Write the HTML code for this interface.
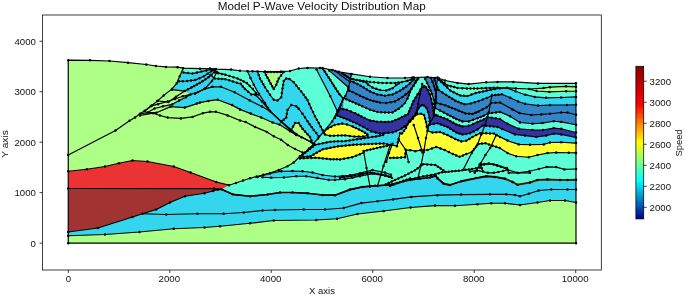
<!DOCTYPE html><html><head><meta charset="utf-8"><style>html,body{margin:0;padding:0;background:#fff;}svg{display:block}</style></head><body>
<svg width="685" height="296" viewBox="0 0 685 296" font-family="Liberation Sans, sans-serif" style="will-change:transform">
<rect width="685" height="296" fill="#fff"/>
<defs><linearGradient id="cb" x1="0" y1="1" x2="0" y2="0"><stop offset="0" stop-color="#00008b"/><stop offset="0.25" stop-color="#00ffff"/><stop offset="0.5" stop-color="#ffff00"/><stop offset="0.75" stop-color="#ff0000"/><stop offset="1" stop-color="#8b0000"/></linearGradient><clipPath id="ax"><rect x="42.50" y="15.00" width="558.80" height="255.00"/></clipPath><clipPath id="mdl"><polygon points="68.25,60.20 90.00,60.30 109.50,61.00 128.00,62.70 146.30,64.50 156.00,66.00 166.00,66.90 177.50,67.20 183.20,68.20 200.00,68.70 210.00,68.60 216.00,69.10 231.00,69.60 240.00,70.75 252.50,71.25 265.00,71.60 281.25,71.60 290.00,71.00 298.75,68.50 307.50,67.90 320.00,68.00 322.50,68.00 332.50,70.10 338.75,71.75 351.25,73.90 370.00,76.75 387.50,78.00 405.00,78.00 412.50,77.50 427.50,77.00 435.00,77.90 438.75,78.25 445.00,80.50 457.50,82.90 468.75,84.10 486.25,82.25 497.50,81.90 513.30,81.90 537.90,83.40 576.00,83.30 576.00,243.20 68.25,243.20"/></clipPath><clipPath id="arc"><polygon points="351.50,55.00 351.50,74.20 348.40,88.30 345.40,96.00 343.40,98.60 338.30,110.20 300.00,110.20 300.00,260.00 600.00,260.00 600.00,55.00"/></clipPath></defs>
<g clip-path="url(#ax)" stroke-linejoin="round" stroke-linecap="round">
<polygon points="68.25,60.20 90.00,60.30 109.50,61.00 128.00,62.70 146.30,64.50 156.00,66.00 166.00,66.90 177.50,67.20 183.20,68.20 200.00,68.70 210.00,68.60 216.00,69.10 231.00,69.60 240.00,70.75 252.50,71.25 265.00,71.60 281.25,71.60 290.00,71.00 298.75,68.50 307.50,67.90 320.00,68.00 322.50,68.00 332.50,70.10 338.75,71.75 351.25,73.90 370.00,76.75 387.50,78.00 405.00,78.00 412.50,77.50 427.50,77.00 435.00,77.90 438.75,78.25 445.00,80.50 457.50,82.90 468.75,84.10 486.25,82.25 497.50,81.90 513.30,81.90 537.90,83.40 576.00,83.30 576.00,243.20 68.25,243.20" fill="#adff85" clip-path="url(#mdl)"/>
<polygon points="221.40,189.30 229.00,185.20 235.00,70.30 240.00,70.75 252.50,71.25 265.00,71.60 281.25,71.60 290.00,71.00 298.75,68.50 307.50,67.90 320.00,68.00 322.50,68.00 332.50,70.10 338.75,71.75 351.25,73.90 370.00,76.75 387.50,78.00 405.00,78.00 412.50,77.50 427.50,77.00 435.00,77.90 438.75,78.25 445.00,80.50 457.50,82.90 468.75,84.10 486.25,82.25 497.50,81.90 513.30,81.90 537.90,83.40 576.00,83.30 576.00,200.00 221.40,200.00" fill="#5cffd6" clip-path="url(#mdl)"/>
<polygon points="336.00,60.00 341.90,73.30 350.00,78.60 360.00,80.60 366.25,82.30 368.00,84.40 372.50,87.60 380.00,90.10 386.25,90.50 392.50,88.25 396.25,85.10 398.75,83.20 402.00,82.00 407.50,80.75 411.25,79.50 414.00,77.50 418.00,65.00 432.00,65.00 436.00,76.00 438.75,79.75 444.00,84.50 450.30,90.60 460.40,95.60 467.50,96.10 475.60,93.10 486.80,90.60 494.90,89.00 500.00,88.30 507.10,87.90 515.50,91.20 525.20,94.70 534.80,96.90 546.20,97.80 561.25,97.50 576.00,96.90 576.00,200.00 336.00,200.00" fill="#33d6ec" clip-path="url(#mdl)"/>
<polygon points="340.00,60.00 345.00,76.00 350.00,80.75 357.50,83.90 363.75,87.60 370.00,91.40 377.50,94.50 385.00,95.75 392.50,94.50 400.00,90.75 406.25,86.40 410.00,83.25 413.75,79.50 416.00,74.00 432.00,72.00 436.00,84.00 438.50,90.00 446.20,95.00 455.40,100.80 464.50,104.30 470.60,103.50 478.70,101.00 486.80,98.00 492.00,95.50 501.90,94.30 510.20,97.80 518.10,101.50 525.00,103.75 538.00,105.60 550.00,105.00 567.00,105.00 576.00,104.75 576.00,200.00 340.00,200.00" fill="#3385c7" clip-path="url(#mdl)"/>
<polygon points="343.30,97.90 352.70,102.00 362.20,106.20 370.00,109.70 377.50,112.00 385.00,112.50 392.50,112.50 398.75,108.75 402.00,106.00 405.00,103.00 407.50,98.50 410.00,92.00 413.00,86.00 416.00,81.00 418.20,78.50 420.00,74.00 424.00,74.00 425.30,79.00 429.00,87.00 432.00,94.00 434.00,100.00 435.00,108.00 440.00,110.50 447.50,114.50 456.25,118.90 462.50,121.40 468.75,121.40 477.50,118.25 483.75,115.75 488.00,113.50 500.00,111.90 510.00,116.25 520.00,122.50 532.50,123.75 542.50,123.10 553.75,121.25 561.25,121.90 576.00,124.75 576.00,200.00 343.30,200.00" fill="#5cffd6" clip-path="url(#mdl)"/>
<polygon points="338.30,111.20 339.70,108.60 346.80,109.70 355.10,113.30 364.60,118.00 370.00,120.40 377.00,121.70 385.00,121.90 392.00,121.50 398.75,118.75 405.00,115.50 408.10,114.00 410.50,108.00 413.50,101.00 417.60,94.30 420.50,89.50 422.50,87.00 424.30,86.30 426.00,87.20 427.80,90.00 429.70,94.30 431.20,99.00 432.40,103.70 433.80,114.00 436.00,115.00 437.50,115.75 447.50,119.50 456.25,124.50 462.50,126.40 468.75,125.75 477.50,122.00 483.75,119.50 487.50,117.00 500.00,119.00 507.50,123.75 518.75,128.75 532.50,130.00 543.00,130.00 553.75,128.10 561.25,128.75 576.00,132.50 576.00,200.00 338.30,200.00" fill="#3333a2" clip-path="url(#mdl)"/>
<polygon points="300.00,60.00 320.00,60.00 323.10,69.00 339.30,94.00 343.40,98.60 338.30,111.20 337.40,115.60 346.80,119.20 356.30,123.30 363.40,127.00 371.25,131.50 380.00,133.60 392.50,132.50 396.00,131.30 401.70,128.60 407.40,124.40 413.00,118.50 416.80,112.50 419.00,107.50 421.50,105.20 424.00,105.50 426.50,108.00 428.00,112.00 429.50,118.00 430.00,124.50 437.50,123.25 447.50,127.00 456.25,132.60 462.50,134.50 470.00,133.25 477.50,129.50 482.50,125.75 486.25,125.75 497.50,127.00 502.00,129.00 515.00,134.40 525.00,135.60 536.25,136.90 546.25,135.60 553.75,133.75 561.25,134.40 576.00,137.50 576.00,200.00 300.00,200.00" fill="#33d6ec" clip-path="url(#mdl)"/>
<polygon points="300.00,157.50 310.60,156.20 322.80,149.30 338.00,146.30 353.20,144.80 368.40,144.00 383.60,143.50 391.00,145.00 397.00,146.20 398.60,139.00 400.00,133.30 402.00,133.50 406.00,128.00 409.00,121.00 413.00,117.00 417.00,114.20 421.00,113.80 424.00,115.00 426.00,122.00 427.50,130.75 432.50,132.60 440.00,132.00 447.50,135.10 455.00,138.90 461.25,141.40 466.25,140.75 472.50,137.00 480.00,133.25 482.50,133.25 493.75,133.50 500.00,136.90 507.50,140.60 518.75,144.40 530.00,144.75 543.75,144.40 550.00,142.50 561.25,142.25 576.00,143.10 576.00,200.00 300.00,200.00" fill="#ffff33" clip-path="url(#mdl)"/>
<polygon points="300.00,158.50 315.20,157.70 330.40,159.20 340.00,159.40 352.20,157.20 363.60,152.60 377.00,150.00 390.20,157.90 397.20,157.80 405.00,157.20 405.80,150.00 410.30,150.20 415.40,151.20 420.50,150.20 423.75,150.00 427.50,150.00 436.25,146.90 444.70,150.00 452.80,154.00 459.60,156.80 466.40,154.00 471.80,152.00 478.40,143.90 485.50,143.30 492.60,145.70 499.70,148.00 507.50,153.10 516.25,156.25 528.75,157.25 537.50,155.00 547.50,153.10 556.25,152.50 568.75,152.75 576.00,152.90 576.00,200.00 300.00,200.00" fill="#5cffd6" clip-path="url(#mdl)"/>
<polygon points="529.10,89.00 543.60,88.10 550.00,87.20 566.00,86.30 576.00,86.80 576.00,91.25 576.00,91.25 566.25,91.25 549.40,91.90 536.60,91.00 529.10,89.10" fill="#adff85" clip-path="url(#mdl)"/>
<polygon points="325.00,134.50 330.00,135.80 338.00,135.50 345.20,135.40 354.40,136.60 363.00,136.60 367.50,135.50 367.50,135.50 376.00,136.40 383.00,135.00 376.00,136.40 360.80,138.70 345.60,141.00 330.40,141.70 315.20,144.80 313.20,143.80 323.80,131.50" fill="#5cffd6" clip-path="url(#mdl)"/>
<polygon points="323.80,132.40 327.80,128.40 334.60,125.00 342.20,123.60 347.00,124.50 352.80,126.60 359.00,129.50 365.00,132.70 367.50,134.50 367.50,135.50 363.00,136.60 354.40,136.60 345.20,135.40 338.00,135.50 330.00,135.80 325.00,134.50" fill="#ffff33" clip-path="url(#mdl)"/>
<polygon points="363.60,151.10 390.20,145.00 377.50,186.00 370.00,186.50" fill="#5cffd6" clip-path="url(#mdl)"/>
<polygon points="68.25,232.00 98.00,228.00 132.50,217.00 142.50,213.75 156.25,209.50 170.00,202.50 185.00,196.25 204.50,193.25 213.00,191.00 218.00,189.60 221.40,189.30 232.60,194.30 250.00,196.25 267.50,194.50 280.00,192.50 292.50,192.50 307.50,193.25 322.50,195.00 335.00,195.20 350.00,189.60 362.50,186.90 375.00,185.80 387.50,185.00 397.50,183.10 403.75,181.25 410.00,180.00 420.00,178.75 430.00,177.50 435.60,175.80 437.50,178.30 443.75,183.75 450.00,185.00 461.25,181.25 476.25,178.10 486.25,176.25 495.00,176.90 505.00,178.75 512.50,181.90 517.50,184.75 530.00,182.50 537.50,180.00 547.50,179.40 560.00,180.00 567.50,180.00 576.00,179.75 576.00,202.50 576.00,202.50 565.00,200.50 550.00,200.50 537.50,202.50 520.00,205.00 505.00,203.25 491.25,203.25 477.50,204.25 455.00,205.75 435.00,205.60 410.60,207.50 383.75,211.00 357.50,214.00 337.00,218.75 316.25,220.00 273.75,220.50 250.00,223.25 220.00,226.25 204.50,227.50 173.75,228.75 139.50,232.00 105.00,234.50 68.25,235.75" fill="#33d6ec" clip-path="url(#mdl)"/>
<polygon points="68.25,235.75 105.00,234.50 139.50,232.00 173.75,228.75 204.50,227.50 220.00,226.25 250.00,223.25 273.75,220.50 316.25,220.00 337.00,218.75 357.50,214.00 383.75,211.00 410.60,207.50 435.00,205.60 455.00,205.75 477.50,204.25 491.25,203.25 505.00,203.25 520.00,205.00 537.50,202.50 550.00,200.50 565.00,200.50 576.00,202.50 576.00,243.20 68.25,243.20" fill="#adff85" clip-path="url(#mdl)"/>
<polygon points="257.50,176.90 270.00,173.40 281.25,171.25 292.50,171.00 302.50,171.25 312.50,172.50 322.50,175.00 335.00,176.50 350.00,175.30 360.00,173.20 372.50,170.00 385.00,172.60 391.00,174.80 391.00,176.90 385.00,175.70 372.50,173.60 360.00,176.20 345.00,179.20 335.00,180.00 328.75,180.00 317.50,178.10 306.25,176.25 296.25,176.25 283.75,177.50 271.25,177.75 262.50,177.25" fill="#33d6ec" clip-path="url(#mdl)"/>
<polygon points="68.25,188.50 214.00,188.60 221.40,189.30 218.00,189.60 213.00,191.00 204.50,193.25 185.00,196.25 170.00,202.50 156.25,209.50 142.50,213.75 132.50,217.00 98.00,228.00 68.25,232.00" fill="#a23333" clip-path="url(#mdl)"/>
<polygon points="68.25,171.25 86.75,169.25 105.00,166.50 118.75,163.25 132.50,160.50 147.50,161.50 173.75,166.50 190.50,172.50 216.30,182.00 229.00,185.20 221.40,189.30 214.00,188.60 68.25,188.50" fill="#ec3333" clip-path="url(#mdl)"/>
<polygon points="140.00,113.70 148.30,112.70 156.40,112.70 170.60,106.60 184.80,107.60 196.90,103.60 200.00,102.60 208.40,100.90 217.70,99.70 232.10,105.10 240.00,109.40 250.70,113.60 261.25,117.50 272.50,122.50 279.40,124.60 290.00,131.25 296.25,135.00 301.40,137.20 311.50,142.30 314.00,144.00 309.00,148.50 305.00,152.50 300.00,156.25 293.75,162.50 287.50,166.25 278.75,170.00 270.00,173.10 250.00,178.30 229.00,185.20 216.30,182.00 190.50,172.50 173.75,166.50 147.50,161.50 132.50,160.50 118.75,163.25 105.00,166.50 86.75,169.25 68.25,171.25 140.00,120.00" fill="#adff85" clip-path="url(#mdl)"/>
<polygon points="183.20,68.20 200.00,68.70 210.00,68.60 216.00,69.10 231.00,69.60 240.00,70.75 252.50,71.25 257.50,71.40 260.00,78.50 265.00,87.25 270.00,94.75 273.75,99.75 277.50,100.40 281.25,97.25 282.50,88.50 283.75,81.00 286.25,78.50 289.40,79.10 293.75,82.25 298.75,88.50 303.75,94.75 307.50,100.00 311.00,108.00 315.00,116.25 322.50,130.00 323.80,131.50 323.80,131.50 314.00,144.00 311.50,142.30 301.40,137.20 296.25,135.00 290.00,131.25 279.40,124.60 272.50,122.50 261.25,117.50 250.70,113.60 240.00,109.40 232.10,105.10 217.70,99.70 208.40,100.90 200.00,102.60 196.90,103.60 184.80,107.60 170.60,106.60 157.80,100.70 163.70,95.40 172.00,88.90 176.70,83.30 179.70,76.20 183.20,68.20" fill="#33d6ec" clip-path="url(#mdl)"/>
<polygon points="172.00,89.70 184.70,91.10 190.40,94.40 186.00,97.30 179.00,100.60 172.40,104.30 163.00,106.30 154.50,108.50 147.50,111.50 145.00,110.50 150.70,106.20 157.30,101.00 163.90,96.30" fill="#adff85" clip-path="url(#mdl)"/>
<polygon points="183.30,68.30 200.00,68.70 210.00,68.60 213.00,69.00 212.00,69.50 206.40,70.40 201.40,71.60 192.60,73.60 183.50,72.60" fill="#5cffd6" clip-path="url(#mdl)"/>
<polygon points="212.50,69.00 231.00,69.60 240.00,70.75 245.20,70.90 247.50,72.25 250.50,78.00 253.75,84.75 256.50,90.00 258.50,94.50 251.30,94.40 245.00,89.00 240.70,83.80 225.40,79.20 214.80,78.50 210.50,75.00" fill="#5cffd6" clip-path="url(#mdl)"/>
<polygon points="257.50,71.40 265.00,71.60 281.25,71.60 290.00,71.00 298.75,68.50 307.50,67.90 316.50,69.50 330.20,96.00 337.30,111.20 332.20,121.40 323.80,131.50 322.50,130.00 315.00,116.25 311.00,108.00 307.50,100.00 303.75,94.75 298.75,88.50 293.75,82.25 289.40,79.10 286.25,78.50 283.75,81.00 282.50,88.50 281.25,97.25 277.50,100.40 273.75,99.75 270.00,94.75 265.00,87.25 260.00,78.50 257.50,71.40" fill="#5cffd6" clip-path="url(#mdl)"/>
<polygon points="264.40,72.00 283.75,72.00 281.00,75.50 278.75,78.50 276.25,84.75 273.75,89.10" fill="#adff85" clip-path="url(#mdl)"/>
<polygon points="291.25,130.00 295.00,123.10 298.75,123.10 302.50,128.75 310.00,137.00 311.50,140.60 300.00,136.00" fill="#adff85" clip-path="url(#mdl)"/>
<polygon points="316.50,69.50 323.10,69.00 339.30,94.00 343.40,98.60 338.30,110.20 337.30,111.20 330.20,96.00" fill="#33d6ec" clip-path="url(#mdl)"/>
<polygon points="323.10,69.00 329.20,70.60 348.40,87.30 345.40,96.00 343.40,98.60 339.30,94.00" fill="#5cffd6" clip-path="url(#mdl)"/>
<polygon points="329.20,70.60 332.50,70.10 338.75,71.75 351.50,74.20 348.40,88.30" fill="#3385c7" clip-path="url(#mdl)"/>
<polyline points="313.20,143.80 318.00,138.50 323.80,131.50" fill="none" stroke="#000" stroke-width="1.20"/>
<polyline points="68.25,60.20 90.00,60.30 109.50,61.00 128.00,62.70 146.30,64.50 156.00,66.00 166.00,66.90 177.50,67.20 183.20,68.20 200.00,68.70 210.00,68.60 216.00,69.10 231.00,69.60 240.00,70.75 252.50,71.25 265.00,71.60 281.25,71.60 290.00,71.00 298.75,68.50 307.50,67.90 320.00,68.00 322.50,68.00 332.50,70.10 338.75,71.75 351.25,73.90 370.00,76.75 387.50,78.00 405.00,78.00 412.50,77.50 427.50,77.00 435.00,77.90 438.75,78.25 445.00,80.50 457.50,82.90 468.75,84.10 486.25,82.25 497.50,81.90 513.30,81.90 537.90,83.40 576.00,83.30 576.00,243.20 68.25,243.20 68.25,60.20" fill="none" stroke="#000" stroke-width="1.20"/>
<polyline points="68.25,235.75 105.00,234.50 139.50,232.00 173.75,228.75 204.50,227.50 220.00,226.25 250.00,223.25 273.75,220.50 316.25,220.00 337.00,218.75 357.50,214.00 383.75,211.00 410.60,207.50 435.00,205.60 455.00,205.75 477.50,204.25 491.25,203.25 505.00,203.25 520.00,205.00 537.50,202.50 550.00,200.50 565.00,200.50 576.00,202.50" fill="none" stroke="#000" stroke-width="1.20"/>
<polyline points="142.50,213.75 166.25,214.50 197.50,213.75 223.75,213.75 243.75,212.50 262.50,210.50 275.00,210.00 303.75,209.50 325.00,209.50 343.75,208.00 361.25,203.10 377.50,201.25 393.10,199.40 411.25,196.90 437.50,195.20 461.25,194.60 490.00,194.30 506.25,194.30 515.00,195.00 520.00,196.25 528.75,193.75 538.75,190.50 551.25,189.50 567.50,189.50 576.00,189.50" fill="none" stroke="#000" stroke-width="1.20"/>
<polyline points="68.25,232.00 98.00,228.00 132.50,217.00 142.50,213.75 156.25,209.50 170.00,202.50 185.00,196.25 204.50,193.25 213.00,191.00 218.00,189.60 221.40,189.30" fill="none" stroke="#000" stroke-width="1.20"/>
<polyline points="221.40,189.30 232.60,194.30 250.00,196.25 267.50,194.50 280.00,192.50 292.50,192.50 307.50,193.25 322.50,195.00 335.00,195.20 350.00,189.60 362.50,186.90 375.00,185.80 387.50,185.00 397.50,183.10 403.75,181.25 410.00,180.00 420.00,178.75 430.00,177.50 435.60,175.80 437.50,178.30 443.75,183.75 450.00,185.00 461.25,181.25 476.25,178.10 486.25,176.25 495.00,176.90 505.00,178.75 512.50,181.90 517.50,184.75 530.00,182.50 537.50,180.00 547.50,179.40 560.00,180.00 567.50,180.00 576.00,179.75" fill="none" stroke="#000" stroke-width="1.20"/>
<polyline points="221.40,189.30 232.60,194.30 250.00,196.25 267.50,194.50 280.00,192.50 292.50,192.50 307.50,193.25 322.50,195.00 335.00,195.20 350.00,189.60 362.50,186.90 375.00,185.80 387.50,185.00 397.50,183.10 403.75,181.25 410.00,180.00 420.00,178.75 430.00,177.50 435.60,175.80 437.50,178.30" fill="none" stroke="#000" stroke-width="1.70"/>
<polyline points="505.00,178.75 512.50,181.90 517.50,184.75 530.00,182.50 537.50,180.00 547.50,179.40 560.00,180.00 567.50,180.00 576.00,179.75" fill="none" stroke="#6b3a10" stroke-width="2.00"/>
<polyline points="505.00,178.75 512.50,181.90 517.50,184.75 530.00,182.50 537.50,180.00 547.50,179.40 560.00,180.00 567.50,180.00 576.00,179.75" fill="none" stroke="#000" stroke-width="0.60"/>
<polyline points="430.00,177.50 435.60,175.80 437.50,178.30 443.75,183.75 450.00,185.00 461.25,181.25 476.25,178.10 486.25,176.25 495.00,176.90 505.00,178.75" fill="none" stroke="#000" stroke-width="1.80"/>
<polyline points="68.25,171.25 86.75,169.25 105.00,166.50 118.75,163.25 132.50,160.50 147.50,161.50 173.75,166.50 190.50,172.50 216.30,182.00 229.00,185.20" fill="none" stroke="#000" stroke-width="1.20"/>
<polyline points="68.25,188.50 214.00,188.60 221.40,189.30" fill="none" stroke="#000" stroke-width="1.20"/>
<polyline points="68.25,155.00 115.50,130.50 129.50,120.75 135.00,117.50 140.00,113.70 144.70,110.80 151.80,105.40 157.80,100.70 163.70,95.40 172.00,88.90 176.70,83.30 179.70,76.20 183.20,68.20" fill="none" stroke="#000" stroke-width="1.20"/>
<polyline points="140.00,113.70 148.30,112.70 156.40,112.70 170.60,106.60 184.80,107.60 196.90,103.60 200.00,102.60 208.40,100.90 217.70,99.70 232.10,105.10 240.00,109.40 250.70,113.60 261.25,117.50 272.50,122.50 279.40,124.60 290.00,131.25 296.25,135.00 301.40,137.20 311.50,142.30 314.00,144.00" fill="none" stroke="#000" stroke-width="1.20"/>
<polyline points="314.00,144.00 309.00,148.50 305.00,152.50 300.00,156.25 293.75,162.50 287.50,166.25 278.75,170.00 270.00,173.10 250.00,178.30 229.00,185.20" fill="none" stroke="#000" stroke-width="1.20"/>
<polyline points="140.00,115.40 153.10,113.20 160.00,115.50 167.70,117.60 180.90,118.40 192.60,116.90 202.80,113.20 210.00,111.80 215.90,111.80 227.60,115.40 240.00,120.50 245.60,122.00 255.00,126.90 266.90,131.90 273.75,136.25 281.10,139.80 287.80,145.00 295.00,149.00 302.50,152.50" fill="none" stroke="#000" stroke-width="1.20"/>
<polyline points="257.50,71.40 260.00,78.50 265.00,87.25 270.00,94.75 273.75,99.75 277.50,100.40 281.25,97.25 282.50,88.50 283.75,81.00 286.25,78.50 289.40,79.10 293.75,82.25 298.75,88.50 303.75,94.75 307.50,100.00 311.00,108.00 315.00,116.25 322.50,130.00 323.80,131.50" fill="none" stroke="#000" stroke-width="1.20"/>
<polyline points="316.50,69.50 330.20,96.00 337.30,111.20 332.20,121.40 323.80,131.50" fill="none" stroke="#000" stroke-width="1.20"/>
<polyline points="323.10,69.00 339.30,94.00 343.40,98.60 338.30,110.20" fill="none" stroke="#000" stroke-width="1.20"/>
<polyline points="329.20,70.60 348.40,87.30" fill="none" stroke="#000" stroke-width="1.20"/>
<polyline points="335.30,71.10 350.00,82.00" fill="none" stroke="#000" stroke-width="1.20"/>
<polyline points="351.50,74.20 348.40,88.30 345.40,96.00 343.40,98.60 338.30,110.20 334.90,118.00" fill="none" stroke="#000" stroke-width="1.20"/>
<polyline points="264.40,72.00 283.75,72.00 281.00,75.50 278.75,78.50 276.25,84.75 273.75,89.10 264.40,72.00" fill="none" stroke="#000" stroke-width="1.20"/>
<polyline points="341.90,73.30 350.00,78.60 360.00,80.60 370.00,82.00 382.50,83.00 395.00,83.00 402.00,82.00 407.50,80.75 411.25,79.50 414.00,77.50" fill="none" stroke="#000" stroke-width="1.20" clip-path="url(#mdl)"/>
<polyline points="436.00,76.00 438.75,79.10 447.50,85.40 457.50,87.90 467.00,88.40 477.50,88.50 490.00,87.90 497.50,87.80 507.10,87.80 515.90,88.40 529.10,89.00 543.60,88.10 550.00,87.20 566.00,86.30 576.00,86.80" fill="none" stroke="#000" stroke-width="1.20" clip-path="url(#mdl)"/>
<polyline points="529.10,89.10 536.60,91.00 549.40,91.90 566.25,91.25 576.00,91.25" fill="none" stroke="#000" stroke-width="1.20" clip-path="url(#mdl)"/>
<polyline points="336.00,60.00 341.90,73.30 350.00,78.60 360.00,80.60 366.25,82.30 368.00,84.40 372.50,87.60 380.00,90.10 386.25,90.50 392.50,88.25 396.25,85.10 398.75,83.20 402.00,82.00 407.50,80.75 411.25,79.50 414.00,77.50 418.00,65.00 432.00,65.00 436.00,76.00 438.75,79.75 444.00,84.50 450.30,90.60 460.40,95.60 467.50,96.10 475.60,93.10 486.80,90.60 494.90,89.00 500.00,88.30 507.10,87.90 515.50,91.20 525.20,94.70 534.80,96.90 546.20,97.80 561.25,97.50 576.00,96.90" fill="none" stroke="#000" stroke-width="1.20" clip-path="url(#mdl)"/>
<polyline points="300.00,60.00 320.00,60.00 323.10,69.00 339.30,94.00 343.40,98.60 338.30,111.20 337.40,115.60 346.80,119.20 356.30,123.30 363.40,127.00 371.25,131.50 380.00,133.60 392.50,132.50 396.00,131.30 401.70,128.60 407.40,124.40 413.00,118.50 416.80,112.50 419.00,107.50 421.50,105.20 424.00,105.50 426.50,108.00 428.00,112.00 429.50,118.00 430.00,124.50 437.50,123.25 447.50,127.00 456.25,132.60 462.50,134.50 470.00,133.25 477.50,129.50 482.50,125.75 486.25,125.75 497.50,127.00 502.00,129.00 515.00,134.40 525.00,135.60 536.25,136.90 546.25,135.60 553.75,133.75 561.25,134.40 576.00,137.50" fill="none" stroke="#000" stroke-width="1.20" clip-path="url(#mdl)"/>
<polyline points="300.00,157.50 310.60,156.20 322.80,149.30 338.00,146.30 353.20,144.80 368.40,144.00 383.60,143.50 391.00,145.00 397.00,146.20 398.60,139.00 400.00,133.30 402.00,133.50 406.00,128.00 409.00,121.00 413.00,117.00 417.00,114.20 421.00,113.80 424.00,115.00 426.00,122.00 427.50,130.75 432.50,132.60 440.00,132.00 447.50,135.10 455.00,138.90 461.25,141.40 466.25,140.75 472.50,137.00 480.00,133.25 482.50,133.25 493.75,133.50 500.00,136.90 507.50,140.60 518.75,144.40 530.00,144.75 543.75,144.40 550.00,142.50 561.25,142.25 576.00,143.10" fill="none" stroke="#000" stroke-width="1.20" clip-path="url(#mdl)"/>
<polyline points="479.60,164.60 489.00,163.40 497.30,165.20 506.80,168.10 508.75,172.90 518.00,172.90 529.40,171.25 538.75,169.00 546.90,166.90 556.25,167.10 564.40,169.40 576.00,169.00" fill="none" stroke="#000" stroke-width="1.20" clip-path="url(#mdl)"/>
<polyline points="300.00,158.50 315.20,157.70 330.40,159.20 340.00,159.40 352.20,157.20 363.60,152.60" fill="none" stroke="#000" stroke-width="1.20" clip-path="url(#mdl)"/>
<polyline points="390.20,157.90 397.20,157.80 405.00,157.20 405.80,150.00 410.30,150.20 415.40,151.20 420.50,150.20 423.75,150.00 427.50,150.00 436.25,146.90 444.70,150.00 452.80,154.00 459.60,156.80 466.40,154.00 471.80,152.00 478.40,143.90 485.50,143.30 492.60,145.70 499.70,148.00 507.50,153.10 516.25,156.25 528.75,157.25 537.50,155.00 547.50,153.10 556.25,152.50 568.75,152.75 576.00,152.90" fill="none" stroke="#000" stroke-width="1.20" clip-path="url(#mdl)"/>
<polyline points="363.60,151.10 377.00,148.00 390.20,145.00" fill="none" stroke="#000" stroke-width="1.20"/>
<g clip-path="url(#arc)"><polyline points="340.00,60.00 345.00,76.00 350.00,80.75 357.50,83.90 363.75,87.60 370.00,91.40 377.50,94.50 385.00,95.75 392.50,94.50 400.00,90.75 406.25,86.40 410.00,83.25 413.75,79.50 416.00,74.00 432.00,72.00 436.00,84.00 438.50,90.00 446.20,95.00 455.40,100.80 464.50,104.30 470.60,103.50 478.70,101.00 486.80,98.00 492.00,95.50 501.90,94.30 510.20,97.80 518.10,101.50 525.00,103.75 538.00,105.60 550.00,105.00 567.00,105.00 576.00,104.75" fill="none" stroke="#000" stroke-width="1.20" clip-path="url(#mdl)"/></g>
<g clip-path="url(#arc)"><polyline points="343.00,75.00 346.25,89.50 352.50,92.00 360.00,95.75 370.00,100.10 380.00,102.60 386.25,103.00 395.00,101.40 402.50,97.00 408.75,92.00 413.75,85.75 417.50,79.50 420.00,73.00 430.00,73.00 431.00,78.00 434.00,86.00 436.00,93.00 436.10,102.70 445.20,105.30 455.40,109.30 465.50,113.40 472.60,113.90 478.70,111.40 486.80,107.30 491.00,103.00 500.00,102.50 512.50,109.40 519.40,113.10 531.25,115.00 541.25,114.40 550.00,113.75 561.25,112.50 567.50,112.50 576.00,114.75" fill="none" stroke="#000" stroke-width="1.20" clip-path="url(#mdl)"/></g>
<g clip-path="url(#arc)"><polyline points="343.30,97.90 352.70,102.00 362.20,106.20 370.00,109.70 377.50,112.00 385.00,112.50 392.50,112.50 398.75,108.75 402.00,106.00 405.00,103.00 407.50,98.50 410.00,92.00 413.00,86.00 416.00,81.00 418.20,78.50 420.00,74.00 424.00,74.00 425.30,79.00 429.00,87.00 432.00,94.00 434.00,100.00 435.00,108.00 440.00,110.50 447.50,114.50 456.25,118.90 462.50,121.40 468.75,121.40 477.50,118.25 483.75,115.75 488.00,113.50 500.00,111.90 510.00,116.25 520.00,122.50 532.50,123.75 542.50,123.10 553.75,121.25 561.25,121.90 576.00,124.75" fill="none" stroke="#000" stroke-width="1.20" clip-path="url(#mdl)"/></g>
<g clip-path="url(#arc)"><polyline points="338.30,111.20 339.70,108.60 346.80,109.70 355.10,113.30 364.60,118.00 370.00,120.40 377.00,121.70 385.00,121.90 392.00,121.50 398.75,118.75 405.00,115.50 408.10,114.00 410.50,108.00 413.50,101.00 417.60,94.30 420.50,89.50 422.50,87.00 424.30,86.30 426.00,87.20 427.80,90.00 429.70,94.30 431.20,99.00 432.40,103.70 433.80,114.00 436.00,115.00 437.50,115.75 447.50,119.50 456.25,124.50 462.50,126.40 468.75,125.75 477.50,122.00 483.75,119.50 487.50,117.00 500.00,119.00 507.50,123.75 518.75,128.75 532.50,130.00 543.00,130.00 553.75,128.10 561.25,128.75 576.00,132.50" fill="none" stroke="#000" stroke-width="1.20" clip-path="url(#mdl)"/></g>
<polyline points="323.80,132.40 327.80,128.40 334.60,125.00 342.20,123.60 347.00,124.50 352.80,126.60 359.00,129.50 365.00,132.70 367.50,134.50 367.50,135.50 363.00,136.60 354.40,136.60 345.20,135.40 338.00,135.50 330.00,135.80 325.00,134.50 323.80,132.40" fill="none" stroke="#000" stroke-width="1.20"/>
<polyline points="300.00,156.90 315.20,144.80 330.40,141.70 345.60,141.00 360.80,138.70 376.00,136.40 383.00,135.00" fill="none" stroke="#000" stroke-width="1.20"/>
<polyline points="257.50,176.90 270.00,173.40 281.25,171.25 292.50,171.00 302.50,171.25 312.50,172.50 322.50,175.00 335.00,176.50 350.00,175.30 360.00,173.20 372.50,170.00 385.00,172.60 391.00,174.80" fill="none" stroke="#000" stroke-width="1.20"/>
<polyline points="391.00,176.90 385.00,175.70 372.50,173.60 360.00,176.20 345.00,179.20 335.00,180.00 328.75,180.00 317.50,178.10 306.25,176.25 296.25,176.25 283.75,177.50 271.25,177.75 262.50,177.25" fill="none" stroke="#000" stroke-width="1.20"/>
<polyline points="363.60,151.10 366.50,168.00 370.00,186.50" fill="none" stroke="#000" stroke-width="1.20"/>
<polyline points="390.20,145.00 383.50,166.00 377.50,186.00" fill="none" stroke="#000" stroke-width="1.20"/>
<polyline points="398.90,140.00 405.60,149.70 408.60,162.00" fill="none" stroke="#000" stroke-width="1.20"/>
<polyline points="422.20,84.10 420.00,94.00 418.20,104.00 416.00,113.00" fill="none" stroke="#000" stroke-width="1.20"/>
<polyline points="385.60,184.50 395.00,180.00 405.00,175.50 415.00,170.30 423.10,164.20 435.30,164.90 443.40,170.30" fill="none" stroke="#000" stroke-width="1.20"/>
<polyline points="390.20,186.00 400.00,182.00 410.00,178.50 415.00,178.40 423.10,176.40 435.30,174.30 442.00,172.30 452.00,171.30 462.30,170.30 472.00,169.00 479.90,167.60" fill="none" stroke="#000" stroke-width="1.20"/>
<polyline points="480.70,165.10 487.80,163.90 493.70,164.50 500.80,166.80 507.90,169.80 503.10,171.00 493.70,172.80 487.80,172.80 483.00,171.60 480.70,165.10" fill="none" stroke="#000" stroke-width="1.20"/>
<polyline points="507.90,169.80 517.30,172.80 530.00,172.80" fill="none" stroke="#000" stroke-width="1.20"/>
<polyline points="470.00,171.60 477.10,170.40 483.00,171.60" fill="none" stroke="#000" stroke-width="1.20"/>
<polyline points="340.00,177.70 355.00,175.50 370.40,172.40 385.60,175.40 392.00,178.00" fill="none" stroke="#000" stroke-width="1.20"/>
<polyline points="183.50,72.60 192.60,73.60 201.40,71.60 206.40,70.40 212.00,69.50" fill="none" stroke="#000" stroke-width="1.20"/>
<polyline points="178.80,81.30 187.00,81.00 195.10,80.10 203.90,76.30 211.40,71.30 214.00,69.50" fill="none" stroke="#000" stroke-width="1.20"/>
<polyline points="172.00,89.70 184.70,91.10 176.00,96.80 168.40,101.90 157.30,101.00" fill="none" stroke="#000" stroke-width="1.20"/>
<polyline points="184.70,91.10 191.30,87.60 202.60,81.30 211.40,75.10 215.20,70.10" fill="none" stroke="#000" stroke-width="1.20"/>
<polyline points="145.00,111.00 150.70,106.20 158.00,104.20 167.70,101.50 175.00,99.00 182.80,96.30 190.40,94.40 198.00,92.00 205.00,88.50 212.00,81.00 217.00,72.00" fill="none" stroke="#000" stroke-width="1.20"/>
<polyline points="147.50,112.50 154.50,108.50 163.00,106.30 172.40,104.30 179.00,100.60 186.00,97.30 190.40,94.40" fill="none" stroke="#000" stroke-width="1.20"/>
<polyline points="195.00,93.70 204.10,89.10 212.50,86.80 220.90,86.80 234.60,92.20 249.80,100.50 262.00,106.60 270.00,111.25 281.25,121.90 290.00,130.00 296.00,135.00" fill="none" stroke="#000" stroke-width="1.20"/>
<polyline points="210.50,75.00 214.80,78.50 225.40,79.20 240.70,83.80 245.00,89.00 251.30,94.40 258.50,94.50" fill="none" stroke="#000" stroke-width="1.20"/>
<polyline points="214.80,72.40 225.40,74.70 237.60,78.50 246.80,83.00 252.80,89.10 256.00,93.00" fill="none" stroke="#000" stroke-width="1.20"/>
<polyline points="247.50,71.30 250.50,78.00 253.75,84.75 259.00,94.00 265.00,103.00 268.00,108.00" fill="none" stroke="#000" stroke-width="1.20"/>
<polyline points="255.70,95.00 262.00,101.50 269.30,110.20 281.00,121.20 296.30,133.90 314.00,144.00" fill="none" stroke="#000" stroke-width="1.20"/>
<polyline points="281.25,121.90 286.25,117.50 287.50,110.00 291.25,105.00 296.25,106.25 298.75,108.75 302.50,113.75 307.50,121.25 313.75,130.00 318.75,136.25" fill="none" stroke="#000" stroke-width="1.20"/>
<polyline points="291.25,130.00 295.00,123.10 298.75,123.10 302.50,128.75 310.00,137.00 311.50,140.60" fill="none" stroke="#000" stroke-width="1.20"/>
<polyline points="491.90,95.00 488.80,112.40 485.00,125.00 481.25,134.50 477.50,144.50 471.90,152.75 463.00,170.00" fill="none" stroke="#000" stroke-width="1.20"/>
<polyline points="496.20,135.00 490.20,148.00 485.40,155.00 480.70,163.30 474.70,172.80" fill="none" stroke="#000" stroke-width="1.20"/>
<polyline points="437.50,77.60 436.00,90.00 435.10,105.00 434.00,116.00 428.75,125.00 427.50,130.75" fill="none" stroke="#000" stroke-width="1.20"/>
<polyline points="413.75,125.00 418.00,138.00 422.50,152.50" fill="none" stroke="#000" stroke-width="1.20"/>
<polyline points="428.75,125.00 426.00,138.00 423.75,151.90 421.00,165.00 418.00,178.00" fill="none" stroke="#000" stroke-width="1.20"/>
<polyline points="392.50,143.75 389.00,153.00 386.25,162.00" fill="none" stroke="#000" stroke-width="1.20"/>
<path d="M313.20 143.80h0 M318.00 138.50h0 M323.80 131.50h0 M68.25 60.20h0 M90.00 60.30h0 M109.50 61.00h0 M128.00 62.70h0 M146.30 64.50h0 M156.00 66.00h0 M166.00 66.90h0 M177.50 67.20h0 M183.20 68.20h0 M200.00 68.70h0 M210.00 68.60h0 M216.00 69.10h0 M231.00 69.60h0 M240.00 70.75h0 M252.50 71.25h0 M265.00 71.60h0 M281.25 71.60h0 M290.00 71.00h0 M298.75 68.50h0 M307.50 67.90h0 M320.00 68.00h0 M322.50 68.00h0 M332.50 70.10h0 M338.75 71.75h0 M351.25 73.90h0 M370.00 76.75h0 M387.50 78.00h0 M405.00 78.00h0 M412.50 77.50h0 M427.50 77.00h0 M435.00 77.90h0 M438.75 78.25h0 M445.00 80.50h0 M457.50 82.90h0 M468.75 84.10h0 M486.25 82.25h0 M497.50 81.90h0 M513.30 81.90h0 M537.90 83.40h0 M576.00 83.30h0 M576.00 243.20h0 M68.25 243.20h0 M68.25 235.75h0 M105.00 234.50h0 M139.50 232.00h0 M173.75 228.75h0 M204.50 227.50h0 M220.00 226.25h0 M250.00 223.25h0 M273.75 220.50h0 M316.25 220.00h0 M337.00 218.75h0 M357.50 214.00h0 M383.75 211.00h0 M410.60 207.50h0 M435.00 205.60h0 M455.00 205.75h0 M477.50 204.25h0 M491.25 203.25h0 M505.00 203.25h0 M520.00 205.00h0 M537.50 202.50h0 M550.00 200.50h0 M565.00 200.50h0 M576.00 202.50h0 M142.50 213.75h0 M166.25 214.50h0 M197.50 213.75h0 M223.75 213.75h0 M243.75 212.50h0 M262.50 210.50h0 M275.00 210.00h0 M303.75 209.50h0 M325.00 209.50h0 M343.75 208.00h0 M361.25 203.10h0 M377.50 201.25h0 M393.10 199.40h0 M411.25 196.90h0 M437.50 195.20h0 M461.25 194.60h0 M490.00 194.30h0 M506.25 194.30h0 M515.00 195.00h0 M520.00 196.25h0 M528.75 193.75h0 M538.75 190.50h0 M551.25 189.50h0 M567.50 189.50h0 M576.00 189.50h0 M68.25 232.00h0 M98.00 228.00h0 M132.50 217.00h0 M156.25 209.50h0 M170.00 202.50h0 M185.00 196.25h0 M204.50 193.25h0 M213.00 191.00h0 M218.00 189.60h0 M221.40 189.30h0 M232.60 194.30h0 M250.00 196.25h0 M267.50 194.50h0 M280.00 192.50h0 M292.50 192.50h0 M307.50 193.25h0 M322.50 195.00h0 M335.00 195.20h0 M350.00 189.60h0 M362.50 186.90h0 M375.00 185.80h0 M387.50 185.00h0 M397.50 183.10h0 M403.75 181.25h0 M410.00 180.00h0 M420.00 178.75h0 M430.00 177.50h0 M435.60 175.80h0 M437.50 178.30h0 M443.75 183.75h0 M450.00 185.00h0 M461.25 181.25h0 M476.25 178.10h0 M486.25 176.25h0 M495.00 176.90h0 M505.00 178.75h0 M512.50 181.90h0 M517.50 184.75h0 M530.00 182.50h0 M537.50 180.00h0 M547.50 179.40h0 M560.00 180.00h0 M567.50 180.00h0 M576.00 179.75h0 M68.25 171.25h0 M86.75 169.25h0 M105.00 166.50h0 M118.75 163.25h0 M132.50 160.50h0 M147.50 161.50h0 M173.75 166.50h0 M190.50 172.50h0 M216.30 182.00h0 M229.00 185.20h0 M68.25 188.50h0 M214.00 188.60h0 M68.25 155.00h0 M115.50 130.50h0 M129.50 120.75h0 M135.00 117.50h0 M140.00 113.70h0 M144.70 110.80h0 M151.80 105.40h0 M157.80 100.70h0 M163.70 95.40h0 M172.00 88.90h0 M176.70 83.30h0 M179.70 76.20h0 M148.30 112.70h0 M156.40 112.70h0 M170.60 106.60h0 M184.80 107.60h0 M196.90 103.60h0 M200.00 102.60h0 M208.40 100.90h0 M217.70 99.70h0 M232.10 105.10h0 M240.00 109.40h0 M250.70 113.60h0 M261.25 117.50h0 M272.50 122.50h0 M279.40 124.60h0 M290.00 131.25h0 M296.25 135.00h0 M301.40 137.20h0 M311.50 142.30h0 M314.00 144.00h0 M309.00 148.50h0 M305.00 152.50h0 M300.00 156.25h0 M293.75 162.50h0 M287.50 166.25h0 M278.75 170.00h0 M270.00 173.10h0 M250.00 178.30h0 M263.33 174.83h0 M256.67 176.57h0 M243.00 180.60h0 M236.00 182.90h0 M140.00 115.40h0 M153.10 113.20h0 M160.00 115.50h0 M167.70 117.60h0 M180.90 118.40h0 M192.60 116.90h0 M202.80 113.20h0 M210.00 111.80h0 M215.90 111.80h0 M227.60 115.40h0 M240.00 120.50h0 M245.60 122.00h0 M255.00 126.90h0 M266.90 131.90h0 M273.75 136.25h0 M281.10 139.80h0 M287.80 145.00h0 M295.00 149.00h0 M302.50 152.50h0 M257.50 71.40h0 M260.00 78.50h0 M265.00 87.25h0 M270.00 94.75h0 M273.75 99.75h0 M277.50 100.40h0 M281.25 97.25h0 M282.50 88.50h0 M283.75 81.00h0 M286.25 78.50h0 M289.40 79.10h0 M293.75 82.25h0 M298.75 88.50h0 M303.75 94.75h0 M307.50 100.00h0 M311.00 108.00h0 M315.00 116.25h0 M322.50 130.00h0 M258.75 74.95h0 M261.67 81.42h0 M263.33 84.33h0 M267.50 91.00h0 M281.88 92.88h0 M283.12 84.75h0 M296.25 85.38h0 M301.25 91.62h0 M305.62 97.38h0 M309.25 104.00h0 M313.00 112.12h0 M316.88 119.69h0 M318.75 123.12h0 M320.62 126.56h0 M316.50 69.50h0 M330.20 96.00h0 M337.30 111.20h0 M332.20 121.40h0 M323.10 69.00h0 M339.30 94.00h0 M343.40 98.60h0 M338.30 110.20h0 M329.20 70.60h0 M348.40 87.30h0 M335.30 71.10h0 M350.00 82.00h0 M351.50 74.20h0 M348.40 88.30h0 M345.40 96.00h0 M334.90 118.00h0 M264.40 72.00h0 M283.75 72.00h0 M281.00 75.50h0 M278.75 78.50h0 M276.25 84.75h0 M273.75 89.10h0 M267.62 72.00h0 M270.85 72.00h0 M274.07 72.00h0 M277.30 72.00h0 M280.52 72.00h0 M277.50 81.62h0 M272.19 86.25h0 M270.63 83.40h0 M269.07 80.55h0 M267.52 77.70h0 M265.96 74.85h0 M341.90 73.30h0 M350.00 78.60h0 M360.00 80.60h0 M370.00 82.00h0 M382.50 83.00h0 M395.00 83.00h0 M402.00 82.00h0 M407.50 80.75h0 M411.25 79.50h0 M414.00 77.50h0 M344.60 75.07h0 M347.30 76.83h0 M353.33 79.27h0 M356.67 79.93h0 M363.33 81.07h0 M366.67 81.53h0 M374.17 82.33h0 M378.33 82.67h0 M386.67 83.00h0 M390.83 83.00h0 M398.50 82.50h0 M438.75 79.10h0 M447.50 85.40h0 M457.50 87.90h0 M467.00 88.40h0 M477.50 88.50h0 M490.00 87.90h0 M497.50 87.80h0 M507.10 87.80h0 M515.90 88.40h0 M529.10 89.00h0 M543.60 88.10h0 M550.00 87.20h0 M566.00 86.30h0 M576.00 86.80h0 M441.67 81.20h0 M444.58 83.30h0 M450.83 86.23h0 M454.17 87.07h0 M462.25 88.15h0 M470.50 88.43h0 M474.00 88.47h0 M481.67 88.30h0 M485.83 88.10h0 M493.75 87.85h0 M536.60 91.00h0 M549.40 91.90h0 M566.25 91.25h0 M576.00 91.25h0 M366.25 82.30h0 M368.00 84.40h0 M372.50 87.60h0 M380.00 90.10h0 M386.25 90.50h0 M392.50 88.25h0 M396.25 85.10h0 M398.75 83.20h0 M438.75 79.75h0 M444.00 84.50h0 M450.30 90.60h0 M460.40 95.60h0 M467.50 96.10h0 M475.60 93.10h0 M486.80 90.60h0 M494.90 89.00h0 M500.00 88.30h0 M515.50 91.20h0 M525.20 94.70h0 M534.80 96.90h0 M546.20 97.80h0 M561.25 97.50h0 M576.00 96.90h0 M363.12 81.45h0 M376.25 88.85h0 M389.38 89.38h0 M441.38 82.12h0 M447.15 87.55h0 M453.67 92.27h0 M457.03 93.93h0 M463.95 95.85h0 M471.55 94.60h0 M479.33 92.27h0 M483.07 91.43h0 M490.85 89.80h0 M338.30 111.20h0 M337.40 115.60h0 M346.80 119.20h0 M356.30 123.30h0 M363.40 127.00h0 M371.25 131.50h0 M380.00 133.60h0 M392.50 132.50h0 M396.00 131.30h0 M401.70 128.60h0 M407.40 124.40h0 M413.00 118.50h0 M416.80 112.50h0 M419.00 107.50h0 M421.50 105.20h0 M424.00 105.50h0 M426.50 108.00h0 M428.00 112.00h0 M429.50 118.00h0 M430.00 124.50h0 M437.50 123.25h0 M447.50 127.00h0 M456.25 132.60h0 M462.50 134.50h0 M470.00 133.25h0 M477.50 129.50h0 M482.50 125.75h0 M486.25 125.75h0 M497.50 127.00h0 M502.00 129.00h0 M515.00 134.40h0 M525.00 135.60h0 M536.25 136.90h0 M546.25 135.60h0 M553.75 133.75h0 M561.25 134.40h0 M576.00 137.50h0 M324.90 71.78h0 M326.70 74.56h0 M328.50 77.33h0 M330.30 80.11h0 M332.10 82.89h0 M333.90 85.67h0 M335.70 88.44h0 M337.50 91.22h0 M342.12 101.75h0 M340.85 104.90h0 M339.57 108.05h0 M340.53 116.80h0 M343.67 118.00h0 M349.97 120.57h0 M353.13 121.93h0 M359.85 125.15h0 M367.32 129.25h0 M375.62 132.55h0 M384.17 133.23h0 M388.33 132.87h0 M404.55 126.50h0 M410.20 121.45h0 M414.90 115.50h0 M429.75 121.25h0 M433.75 123.88h0 M440.83 124.50h0 M444.17 125.75h0 M450.42 128.87h0 M453.33 130.73h0 M459.38 133.55h0 M466.25 133.88h0 M473.75 131.38h0 M490.00 126.17h0 M493.75 126.58h0 M300.00 157.50h0 M310.60 156.20h0 M322.80 149.30h0 M338.00 146.30h0 M353.20 144.80h0 M368.40 144.00h0 M383.60 143.50h0 M391.00 145.00h0 M397.00 146.20h0 M398.60 139.00h0 M400.00 133.30h0 M402.00 133.50h0 M406.00 128.00h0 M409.00 121.00h0 M413.00 117.00h0 M417.00 114.20h0 M421.00 113.80h0 M424.00 115.00h0 M426.00 122.00h0 M427.50 130.75h0 M432.50 132.60h0 M440.00 132.00h0 M447.50 135.10h0 M455.00 138.90h0 M461.25 141.40h0 M466.25 140.75h0 M472.50 137.00h0 M480.00 133.25h0 M482.50 133.25h0 M493.75 133.50h0 M500.00 136.90h0 M507.50 140.60h0 M518.75 144.40h0 M530.00 144.75h0 M543.75 144.40h0 M550.00 142.50h0 M561.25 142.25h0 M576.00 143.10h0 M303.53 157.07h0 M307.07 156.63h0 M313.65 154.47h0 M316.70 152.75h0 M319.75 151.03h0 M326.60 148.55h0 M330.40 147.80h0 M334.20 147.05h0 M341.80 145.93h0 M345.60 145.55h0 M349.40 145.18h0 M357.00 144.60h0 M360.80 144.40h0 M364.60 144.20h0 M372.20 143.88h0 M376.00 143.75h0 M379.80 143.62h0 M387.30 144.25h0 M397.80 142.60h0 M404.00 130.75h0 M425.00 118.50h0 M426.75 126.38h0 M436.25 132.30h0 M443.75 133.55h0 M451.25 137.00h0 M458.12 140.15h0 M469.38 138.88h0 M476.25 135.12h0 M486.25 133.33h0 M490.00 133.42h0 M496.88 135.20h0 M479.60 164.60h0 M489.00 163.40h0 M497.30 165.20h0 M506.80 168.10h0 M508.75 172.90h0 M518.00 172.90h0 M529.40 171.25h0 M538.75 169.00h0 M546.90 166.90h0 M556.25 167.10h0 M564.40 169.40h0 M576.00 169.00h0 M484.30 164.00h0 M493.15 164.30h0 M300.00 158.50h0 M315.20 157.70h0 M330.40 159.20h0 M340.00 159.40h0 M352.20 157.20h0 M363.60 152.60h0 M303.80 158.30h0 M307.60 158.10h0 M311.40 157.90h0 M319.00 158.07h0 M322.80 158.45h0 M326.60 158.82h0 M333.60 159.27h0 M336.80 159.33h0 M344.07 158.67h0 M348.13 157.93h0 M356.00 155.67h0 M359.80 154.13h0 M390.20 157.90h0 M397.20 157.80h0 M405.00 157.20h0 M405.80 150.00h0 M410.30 150.20h0 M415.40 151.20h0 M420.50 150.20h0 M423.75 150.00h0 M427.50 150.00h0 M436.25 146.90h0 M444.70 150.00h0 M452.80 154.00h0 M459.60 156.80h0 M466.40 154.00h0 M471.80 152.00h0 M478.40 143.90h0 M485.50 143.30h0 M492.60 145.70h0 M499.70 148.00h0 M507.50 153.10h0 M516.25 156.25h0 M528.75 157.25h0 M537.50 155.00h0 M547.50 153.10h0 M556.25 152.50h0 M568.75 152.75h0 M576.00 152.90h0 M393.70 157.85h0 M401.10 157.50h0 M405.40 153.60h0 M431.88 148.45h0 M440.48 148.45h0 M448.75 152.00h0 M456.20 155.40h0 M463.00 155.40h0 M474.00 149.30h0 M476.20 146.60h0 M481.95 143.60h0 M489.05 144.50h0 M496.15 146.85h0 M363.60 151.10h0 M377.00 148.00h0 M390.20 145.00h0 M366.95 150.32h0 M370.30 149.55h0 M373.65 148.78h0 M380.30 147.25h0 M383.60 146.50h0 M386.90 145.75h0 M357.50 83.90h0 M363.75 87.60h0 M370.00 91.40h0 M377.50 94.50h0 M385.00 95.75h0 M392.50 94.50h0 M400.00 90.75h0 M406.25 86.40h0 M410.00 83.25h0 M413.75 79.50h0 M436.00 84.00h0 M438.50 90.00h0 M446.20 95.00h0 M455.40 100.80h0 M464.50 104.30h0 M470.60 103.50h0 M478.70 101.00h0 M486.80 98.00h0 M492.00 95.50h0 M501.90 94.30h0 M510.20 97.80h0 M518.10 101.50h0 M525.00 103.75h0 M538.00 105.60h0 M550.00 105.00h0 M567.00 105.00h0 M576.00 104.75h0 M353.75 82.33h0 M360.62 85.75h0 M366.88 89.50h0 M373.75 92.95h0 M381.25 95.12h0 M388.75 95.12h0 M396.25 92.62h0 M403.12 88.58h0 M434.67 80.00h0 M437.25 87.00h0 M442.35 92.50h0 M449.27 96.93h0 M452.33 98.87h0 M458.43 101.97h0 M461.47 103.13h0 M474.65 102.25h0 M482.75 99.50h0 M495.30 95.10h0 M498.60 94.70h0 M352.50 92.00h0 M360.00 95.75h0 M370.00 100.10h0 M380.00 102.60h0 M386.25 103.00h0 M395.00 101.40h0 M402.50 97.00h0 M408.75 92.00h0 M413.75 85.75h0 M417.50 79.50h0 M431.00 78.00h0 M434.00 86.00h0 M436.00 93.00h0 M436.10 102.70h0 M445.20 105.30h0 M455.40 109.30h0 M465.50 113.40h0 M472.60 113.90h0 M478.70 111.40h0 M486.80 107.30h0 M491.00 103.00h0 M500.00 102.50h0 M512.50 109.40h0 M519.40 113.10h0 M531.25 115.00h0 M541.25 114.40h0 M550.00 113.75h0 M561.25 112.50h0 M567.50 112.50h0 M576.00 114.75h0 M349.38 90.75h0 M356.25 93.88h0 M363.33 97.20h0 M366.67 98.65h0 M373.33 100.93h0 M376.67 101.77h0 M390.62 102.20h0 M398.75 99.20h0 M405.62 94.50h0 M411.25 88.88h0 M415.62 82.62h0 M432.50 82.00h0 M435.00 89.50h0 M436.03 96.23h0 M436.07 99.47h0 M440.65 104.00h0 M448.60 106.63h0 M452.00 107.97h0 M458.77 110.67h0 M462.13 112.03h0 M469.05 113.65h0 M475.65 112.65h0 M482.75 109.35h0 M495.50 102.75h0 M352.70 102.00h0 M362.20 106.20h0 M370.00 109.70h0 M377.50 112.00h0 M385.00 112.50h0 M392.50 112.50h0 M398.75 108.75h0 M402.00 106.00h0 M405.00 103.00h0 M407.50 98.50h0 M410.00 92.00h0 M413.00 86.00h0 M416.00 81.00h0 M418.20 78.50h0 M425.30 79.00h0 M429.00 87.00h0 M432.00 94.00h0 M434.00 100.00h0 M435.00 108.00h0 M440.00 110.50h0 M447.50 114.50h0 M456.25 118.90h0 M462.50 121.40h0 M468.75 121.40h0 M477.50 118.25h0 M483.75 115.75h0 M488.00 113.50h0 M500.00 111.90h0 M510.00 116.25h0 M520.00 122.50h0 M532.50 123.75h0 M542.50 123.10h0 M553.75 121.25h0 M561.25 121.90h0 M576.00 124.75h0 M346.43 99.27h0 M349.57 100.63h0 M355.87 103.40h0 M359.03 104.80h0 M366.10 107.95h0 M373.75 110.85h0 M381.25 112.25h0 M388.75 112.50h0 M395.62 110.62h0 M408.75 95.25h0 M411.50 89.00h0 M427.15 83.00h0 M430.50 90.50h0 M434.50 104.00h0 M443.75 112.50h0 M450.42 115.97h0 M453.33 117.43h0 M459.38 120.15h0 M473.12 119.83h0 M480.62 117.00h0 M492.00 112.97h0 M496.00 112.43h0 M339.70 108.60h0 M346.80 109.70h0 M355.10 113.30h0 M364.60 118.00h0 M370.00 120.40h0 M377.00 121.70h0 M385.00 121.90h0 M392.00 121.50h0 M398.75 118.75h0 M405.00 115.50h0 M408.10 114.00h0 M410.50 108.00h0 M413.50 101.00h0 M417.60 94.30h0 M420.50 89.50h0 M422.50 87.00h0 M424.30 86.30h0 M426.00 87.20h0 M427.80 90.00h0 M429.70 94.30h0 M431.20 99.00h0 M432.40 103.70h0 M433.80 114.00h0 M436.00 115.00h0 M437.50 115.75h0 M447.50 119.50h0 M456.25 124.50h0 M462.50 126.40h0 M468.75 125.75h0 M477.50 122.00h0 M483.75 119.50h0 M487.50 117.00h0 M500.00 119.00h0 M507.50 123.75h0 M518.75 128.75h0 M532.50 130.00h0 M543.00 130.00h0 M553.75 128.10h0 M561.25 128.75h0 M576.00 132.50h0 M343.25 109.15h0 M350.95 111.50h0 M358.27 114.87h0 M361.43 116.43h0 M373.50 121.05h0 M381.00 121.80h0 M388.50 121.70h0 M395.38 120.12h0 M401.88 117.12h0 M409.30 111.00h0 M412.00 104.50h0 M415.55 97.65h0 M432.87 107.13h0 M433.33 110.57h0 M440.83 117.00h0 M444.17 118.25h0 M450.42 121.17h0 M453.33 122.83h0 M459.38 125.45h0 M473.12 123.88h0 M480.62 120.75h0 M491.67 117.67h0 M495.83 118.33h0 M323.80 132.40h0 M327.80 128.40h0 M334.60 125.00h0 M342.20 123.60h0 M347.00 124.50h0 M352.80 126.60h0 M359.00 129.50h0 M365.00 132.70h0 M367.50 134.50h0 M367.50 135.50h0 M363.00 136.60h0 M354.40 136.60h0 M345.20 135.40h0 M338.00 135.50h0 M330.00 135.80h0 M325.00 134.50h0 M331.20 126.70h0 M338.40 124.30h0 M355.90 128.05h0 M362.00 131.10h0 M358.70 136.60h0 M349.80 136.00h0 M341.60 135.45h0 M334.00 135.65h0 M300.00 156.90h0 M315.20 144.80h0 M330.40 141.70h0 M345.60 141.00h0 M360.80 138.70h0 M376.00 136.40h0 M383.00 135.00h0 M302.53 154.88h0 M305.07 152.87h0 M307.60 150.85h0 M310.13 148.83h0 M312.67 146.82h0 M319.00 144.03h0 M322.80 143.25h0 M326.60 142.47h0 M334.20 141.52h0 M338.00 141.35h0 M341.80 141.18h0 M349.40 140.43h0 M353.20 139.85h0 M357.00 139.27h0 M364.60 138.12h0 M368.40 137.55h0 M372.20 136.97h0 M379.50 135.70h0 M257.50 176.90h0 M270.00 173.40h0 M281.25 171.25h0 M292.50 171.00h0 M302.50 171.25h0 M312.50 172.50h0 M322.50 175.00h0 M335.00 176.50h0 M350.00 175.30h0 M360.00 173.20h0 M372.50 170.00h0 M385.00 172.60h0 M391.00 174.80h0 M342.50 175.90h0 M391.00 176.90h0 M385.00 175.70h0 M372.50 173.60h0 M360.00 176.20h0 M345.00 179.20h0 M335.00 180.00h0 M328.75 180.00h0 M317.50 178.10h0 M306.25 176.25h0 M296.25 176.25h0 M283.75 177.50h0 M271.25 177.75h0 M262.50 177.25h0 M352.50 177.70h0 M366.50 168.00h0 M370.00 186.50h0 M383.50 166.00h0 M377.50 186.00h0 M398.90 140.00h0 M405.60 149.70h0 M408.60 162.00h0 M422.20 84.10h0 M420.00 94.00h0 M418.20 104.00h0 M416.00 113.00h0 M385.60 184.50h0 M395.00 180.00h0 M405.00 175.50h0 M415.00 170.30h0 M423.10 164.20h0 M435.30 164.90h0 M443.40 170.30h0 M388.73 183.00h0 M391.87 181.50h0 M398.33 178.50h0 M401.67 177.00h0 M408.33 173.77h0 M411.67 172.03h0 M417.70 168.27h0 M420.40 166.23h0 M427.17 164.43h0 M431.23 164.67h0 M438.00 166.70h0 M440.70 168.50h0 M390.20 186.00h0 M400.00 182.00h0 M410.00 178.50h0 M415.00 178.40h0 M423.10 176.40h0 M435.30 174.30h0 M442.00 172.30h0 M452.00 171.30h0 M462.30 170.30h0 M472.00 169.00h0 M479.90 167.60h0 M393.47 184.67h0 M396.73 183.33h0 M403.33 180.83h0 M406.67 179.67h0 M419.05 177.40h0 M427.17 175.70h0 M431.23 175.00h0 M438.65 173.30h0 M445.33 171.97h0 M448.67 171.63h0 M455.43 170.97h0 M458.87 170.63h0 M465.53 169.87h0 M468.77 169.43h0 M475.95 168.30h0 M480.70 165.10h0 M487.80 163.90h0 M493.70 164.50h0 M500.80 166.80h0 M507.90 169.80h0 M503.10 171.00h0 M493.70 172.80h0 M487.80 172.80h0 M483.00 171.60h0 M484.25 164.50h0 M497.25 165.65h0 M498.40 171.90h0 M481.85 168.35h0 M517.30 172.80h0 M530.00 172.80h0 M470.00 171.60h0 M477.10 170.40h0 M340.00 177.70h0 M355.00 175.50h0 M370.40 172.40h0 M385.60 175.40h0 M392.00 178.00h0 M343.75 177.15h0 M347.50 176.60h0 M351.25 176.05h0 M358.85 174.72h0 M362.70 173.95h0 M366.55 173.18h0 M374.20 173.15h0 M378.00 173.90h0 M381.80 174.65h0 M388.80 176.70h0 M183.50 72.60h0 M192.60 73.60h0 M201.40 71.60h0 M206.40 70.40h0 M212.00 69.50h0 M188.05 73.10h0 M197.00 72.60h0 M178.80 81.30h0 M187.00 81.00h0 M195.10 80.10h0 M203.90 76.30h0 M211.40 71.30h0 M214.00 69.50h0 M182.90 81.15h0 M191.05 80.55h0 M199.50 78.20h0 M207.65 73.80h0 M172.00 89.70h0 M184.70 91.10h0 M176.00 96.80h0 M168.40 101.90h0 M157.30 101.00h0 M191.30 87.60h0 M202.60 81.30h0 M211.40 75.10h0 M215.20 70.10h0 M188.00 89.35h0 M194.12 86.02h0 M196.95 84.45h0 M199.78 82.88h0 M205.53 79.23h0 M208.47 77.17h0 M145.00 111.00h0 M150.70 106.20h0 M158.00 104.20h0 M167.70 101.50h0 M175.00 99.00h0 M182.80 96.30h0 M190.40 94.40h0 M198.00 92.00h0 M205.00 88.50h0 M212.00 81.00h0 M217.00 72.00h0 M147.50 112.50h0 M154.50 108.50h0 M163.00 106.30h0 M172.40 104.30h0 M179.00 100.60h0 M186.00 97.30h0 M195.00 93.70h0 M204.10 89.10h0 M212.50 86.80h0 M220.90 86.80h0 M234.60 92.20h0 M249.80 100.50h0 M262.00 106.60h0 M270.00 111.25h0 M281.25 121.90h0 M290.00 130.00h0 M210.50 75.00h0 M214.80 78.50h0 M225.40 79.20h0 M240.70 83.80h0 M245.00 89.00h0 M251.30 94.40h0 M258.50 94.50h0 M218.33 78.73h0 M221.87 78.97h0 M229.22 80.35h0 M233.05 81.50h0 M236.88 82.65h0 M242.85 86.40h0 M248.15 91.70h0 M254.90 94.45h0 M214.80 72.40h0 M225.40 74.70h0 M237.60 78.50h0 M246.80 83.00h0 M252.80 89.10h0 M256.00 93.00h0 M218.33 73.17h0 M221.87 73.93h0 M229.47 75.97h0 M233.53 77.23h0 M240.67 80.00h0 M243.73 81.50h0 M249.80 86.05h0 M247.50 71.30h0 M250.50 78.00h0 M253.75 84.75h0 M259.00 94.00h0 M265.00 103.00h0 M268.00 108.00h0 M255.70 95.00h0 M262.00 101.50h0 M269.30 110.20h0 M281.00 121.20h0 M296.30 133.90h0 M286.25 117.50h0 M287.50 110.00h0 M291.25 105.00h0 M296.25 106.25h0 M298.75 108.75h0 M302.50 113.75h0 M307.50 121.25h0 M313.75 130.00h0 M318.75 136.25h0 M283.75 119.70h0 M286.88 113.75h0 M305.00 117.50h0 M309.58 124.17h0 M311.67 127.08h0 M316.25 133.12h0 M291.25 130.00h0 M295.00 123.10h0 M298.75 123.10h0 M302.50 128.75h0 M310.00 137.00h0 M311.50 140.60h0 M293.12 126.55h0 M300.62 125.92h0 M305.00 131.50h0 M307.50 134.25h0 M491.90 95.00h0 M488.80 112.40h0 M485.00 125.00h0 M481.25 134.50h0 M477.50 144.50h0 M471.90 152.75h0 M463.00 170.00h0 M496.20 135.00h0 M490.20 148.00h0 M485.40 155.00h0 M480.70 163.30h0 M474.70 172.80h0 M437.50 77.60h0 M436.00 90.00h0 M435.10 105.00h0 M434.00 116.00h0 M428.75 125.00h0 M413.75 125.00h0 M418.00 138.00h0 M422.50 152.50h0 M426.00 138.00h0 M423.75 151.90h0 M421.00 165.00h0 M418.00 178.00h0 M392.50 143.75h0 M389.00 153.00h0 M386.25 162.00h0" stroke="#000" stroke-width="2.5" stroke-linecap="round" fill="none"/>
</g>
<g stroke="#000" stroke-width="0.75" fill="none">
<rect x="42.50" y="15.00" width="558.80" height="255.00" stroke-linejoin="miter"/>
<line x1="68.30" y1="270.00" x2="68.30" y2="273.00"/>
<line x1="169.78" y1="270.00" x2="169.78" y2="273.00"/>
<line x1="271.26" y1="270.00" x2="271.26" y2="273.00"/>
<line x1="372.74" y1="270.00" x2="372.74" y2="273.00"/>
<line x1="474.22" y1="270.00" x2="474.22" y2="273.00"/>
<line x1="575.70" y1="270.00" x2="575.70" y2="273.00"/>
<line x1="39.50" y1="243.10" x2="42.50" y2="243.10"/>
<line x1="39.50" y1="192.64" x2="42.50" y2="192.64"/>
<line x1="39.50" y1="142.18" x2="42.50" y2="142.18"/>
<line x1="39.50" y1="91.72" x2="42.50" y2="91.72"/>
<line x1="39.50" y1="41.26" x2="42.50" y2="41.26"/>
</g>
<g fill="#111" font-size="9.50">
<text x="68.40" y="282.1" text-anchor="middle" textLength="5.37" lengthAdjust="spacingAndGlyphs">0</text>
<text x="169.28" y="282.1" text-anchor="middle" textLength="21.50" lengthAdjust="spacingAndGlyphs">2000</text>
<text x="270.76" y="282.1" text-anchor="middle" textLength="21.50" lengthAdjust="spacingAndGlyphs">4000</text>
<text x="372.24" y="282.1" text-anchor="middle" textLength="21.50" lengthAdjust="spacingAndGlyphs">6000</text>
<text x="473.72" y="282.1" text-anchor="middle" textLength="21.50" lengthAdjust="spacingAndGlyphs">8000</text>
<text x="575.20" y="282.1" text-anchor="middle" textLength="26.87" lengthAdjust="spacingAndGlyphs">10000</text>
<text x="36.0" y="246.70" text-anchor="end" textLength="5.37" lengthAdjust="spacingAndGlyphs">0</text>
<text x="36.0" y="196.24" text-anchor="end" textLength="21.50" lengthAdjust="spacingAndGlyphs">1000</text>
<text x="36.0" y="145.78" text-anchor="end" textLength="21.50" lengthAdjust="spacingAndGlyphs">2000</text>
<text x="36.0" y="95.32" text-anchor="end" textLength="21.50" lengthAdjust="spacingAndGlyphs">3000</text>
<text x="36.0" y="44.86" text-anchor="end" textLength="21.50" lengthAdjust="spacingAndGlyphs">4000</text>
</g>
<text x="321.7" y="9.5" text-anchor="middle" font-size="10.9" fill="#111" textLength="208.0" lengthAdjust="spacingAndGlyphs">Model P-Wave Velocity Distribution Map</text>
<text x="322.0" y="294.0" text-anchor="middle" font-size="9.1" fill="#111" textLength="26.0" lengthAdjust="spacingAndGlyphs">X axis</text>
<text transform="translate(7.8,144.0) rotate(-90)" text-anchor="middle" font-size="9.1" fill="#111" textLength="27.5" lengthAdjust="spacingAndGlyphs">Y axis</text>
<rect x="635.90" y="66.30" width="7.80" height="152.60" fill="url(#cb)" stroke="#000" stroke-width="0.75"/>
<g stroke="#000" stroke-width="0.75">
<line x1="643.70" y1="207.30" x2="646.70" y2="207.30"/>
<line x1="643.70" y1="186.28" x2="646.70" y2="186.28"/>
<line x1="643.70" y1="165.27" x2="646.70" y2="165.27"/>
<line x1="643.70" y1="144.25" x2="646.70" y2="144.25"/>
<line x1="643.70" y1="123.24" x2="646.70" y2="123.24"/>
<line x1="643.70" y1="102.22" x2="646.70" y2="102.22"/>
<line x1="643.70" y1="81.20" x2="646.70" y2="81.20"/>
</g><g fill="#111" font-size="9.50">
<text x="649.6" y="210.80" textLength="21.50" lengthAdjust="spacingAndGlyphs">2000</text>
<text x="649.6" y="189.78" textLength="21.50" lengthAdjust="spacingAndGlyphs">2200</text>
<text x="649.6" y="168.77" textLength="21.50" lengthAdjust="spacingAndGlyphs">2400</text>
<text x="649.6" y="147.75" textLength="21.50" lengthAdjust="spacingAndGlyphs">2600</text>
<text x="649.6" y="126.74" textLength="21.50" lengthAdjust="spacingAndGlyphs">2800</text>
<text x="649.6" y="105.72" textLength="21.50" lengthAdjust="spacingAndGlyphs">3000</text>
<text x="649.6" y="84.70" textLength="21.50" lengthAdjust="spacingAndGlyphs">3200</text>
</g>
<text transform="translate(682.2,143.0) rotate(-90)" text-anchor="middle" font-size="9.1" fill="#111" textLength="27.1" lengthAdjust="spacingAndGlyphs">Speed</text>
</svg></body></html>
